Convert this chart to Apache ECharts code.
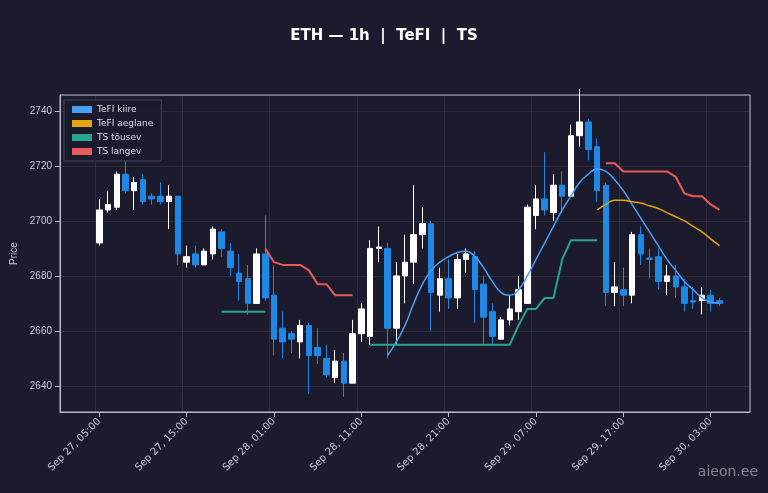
<!DOCTYPE html>
<html>
<head>
<meta charset="utf-8">
<script src="https://cdn.jsdelivr.net/npm/echarts@6/dist/echarts.min.js"></script>
<style>html,body{margin:0;background:#1b1b2d;}#main{width:768px;height:493px;}</style>
</head>
<body>
<div id="main"></div>
<script>
// tunnid: Sep 27 05:00 .. Sep 30 04:00, ees 4 ja taga 3 tühja kohta
var PAD_L = 4, PAD_R = 3;
var hours = [];
for (var p = 0; p < PAD_L; p++) hours.push('l' + p);
for (var h = 0; h < 72; h++) {
    var d = 27 + Math.floor((h + 5) / 24), hh = (h + 5) % 24;
    hours.push('Sep ' + d + ', ' + (hh < 10 ? '0' : '') + hh + ':00');
}
for (var q = 0; q < PAD_R; q++) hours.push('r' + q);
// [open, close, low, high]
var candles = [
    [2692,2704,2691,2708],[2704,2706,2703,2711],[2705,2717,2704,2718],[2717,2711,2710,2722],
    [2711,2714,2704,2716],[2715,2707,2706,2717],[2709,2708,2706,2710],[2709,2707,2706,2714],
    [2707,2709,2697,2713],[2709,2688,2684,2709],[2685,2687,2683,2691],[2688,2684,2683,2691],
    [2684,2689,2684,2690],[2688,2697,2686,2698],[2696,2690,2687,2697],[2689,2683,2680,2692],
    [2681,2678,2671,2688],[2679,2670,2666,2684],[2670,2688,2671,2690],[2688,2672,2671,2702],
    [2673,2657,2651,2684],[2661,2656,2650,2667],[2659,2657,2652,2660],[2656,2662,2650,2664],
    [2662,2651,2637,2663],[2654,2651,2648,2661],[2650,2644,2643,2655],[2643,2649,2641,2653],
    [2649,2641,2636,2652],[2641,2659,2641,2664],[2659,2668,2656,2670],[2658,2690,2655,2693],
    [2690,2690.5,2685,2698],[2690,2661,2650,2692],[2661,2680,2655,2685],[2680,2685,2670,2695],
    [2685,2695,2677,2713],[2695,2699,2690,2705],[2699,2674,2660,2700],[2673,2679,2667,2683],
    [2679,2672,2668,2686],[2672,2686,2668,2688],[2686,2688,2681,2690],[2687,2675,2663,2689],
    [2677,2665,2655,2680],[2667,2658,2655,2670],[2657,2664,2657,2665],[2664,2668,2662,2673],
    [2667,2675,2664,2680],[2670,2705,2670,2706],[2702,2708,2697,2713],[2708,2704,2702,2725],
    [2703,2713,2700,2717],[2713,2709,2703,2718],[2709,2731,2709,2735],[2731,2736,2727,2748],
    [2736,2726,2722,2737],[2727,2711,2707,2730],[2713,2674,2669,2714],[2674,2676,2669,2685],
    [2675,2673,2669,2683],[2673,2695,2670,2696],[2695,2688,2684,2698],[2686.5,2686,2679,2690],
    [2687,2678,2675,2690],[2678,2680,2673,2684],[2680,2676,2672,2684],[2676,2670,2667,2679],
    [2671,2670.5,2668,2676],[2671,2673,2666,2676],[2673,2670,2667,2675],[2671,2670,2669,2672]
];
var n = null;
var tefiKiire = [n,n,n,n,n,n,n,n,n,n,n,n,n,n,n,n,n,n,n,n,n,n,n,n,n,n,n,n,n,n,n,n,n,
    2651,2656,2662,2670,2677,2682,2685,2687,2688.5,2689,2687,2683,2678,2674,2673,2675,2680,
    2686,2692,2698,2704,2709,2714,2717,2719,2718,2715,2711,2706,2701,2696,2691,2686,2682,
    2678,2675,2672,2670.5,2670];
var tefiAeglane = [n,n,n,n,n,n,n,n,n,n,n,n,n,n,n,n,n,n,n,n,n,n,n,n,n,n,n,n,n,n,n,n,n,n,n,n,n,n,n,n,
    n,n,n,n,n,n,n,n,n,n,n,n,n,n,n,n,n,
    2704,2706,2707.5,2707.5,2707,2706.5,2705.5,2704.5,2703,2701.5,2700,2698,2696,2693.5,2691];
var tsTousev = [n,n,n,n,n,n,n,n,n,n,n,n,n,n,2667,2667,2667,2667,2667,2667,n,n,n,n,n,n,n,n,n,n,n,
    2655,2655,2655,2655,2655,2655,2655,2655,2655,2655,2655,2655,2655,2655,2655,2655,2655,
    2662,2668,2668,2672,2672,2686,2693,2693,2693,2693];
var tsLangev = [n,n,n,n,n,n,n,n,n,n,n,n,n,n,n,n,n,n,n,
    2690,2685,2684,2684,2684,2682,2677,2677,2673,2673,2673,
    n,n,n,n,n,n,n,n,n,n,n,n,n,n,n,n,n,n,n,n,n,n,n,n,n,n,n,n,
    2721,2721,2718,2718,2718,2718,2718,2718,2716,2710,2709,2709,2706,2704];

function pad(arr) {
    var out = [];
    for (var i = 0; i < PAD_L; i++) out.push('-');
    out = out.concat(arr);
    while (out.length < hours.length) out.push('-');
    return out;
}
function isTick(i) { return i >= PAD_L && (i - PAD_L) % 10 === 0 && i < PAD_L + 72; }

var chart = echarts.init(document.getElementById('main'));
var txt = '#c8c8d4', grid = 'rgba(255,255,255,0.07)';
chart.setOption({
    backgroundColor: '#1b1b2d',
    title: { text: 'ETH — 1h  |  TeFI  |  TS', left: 'center', top: 24,
        textStyle: { color: '#ffffff', fontSize: 15, fontWeight: 'bold', fontFamily: 'DejaVu Sans' } },
    legend: {
        left: 64, top: 100, orient: 'vertical', itemWidth: 20, itemHeight: 7, itemGap: 5,
        padding: [5, 8], backgroundColor: 'rgba(27,27,45,0.9)', borderColor: '#44445a', borderWidth: 1,
        textStyle: { color: '#dddde6', fontSize: 9, fontFamily: 'DejaVu Sans' },
        data: [
            { name: 'TeFI kiire', icon: 'rect', itemStyle: { color: '#4a9ff5' } },
            { name: 'TeFI aeglane', icon: 'rect', itemStyle: { color: '#e5a50a' } },
            { name: 'TS tõusev', icon: 'rect', itemStyle: { color: '#2aa58a' } },
            { name: 'TS langev', icon: 'rect', itemStyle: { color: '#e85a5a' } }
        ]
    },
    grid: { left: 60, right: 18, top: 95, bottom: 81 },
    xAxis: {
        type: 'category', data: hours, boundaryGap: true,
        axisLine: { lineStyle: { color: '#b8b8c8' } },
        axisTick: { show: true, interval: isTick, alignWithLabel: true, lineStyle: { color: '#b8b8c8' } },
        axisLabel: { color: txt, fontSize: 10, rotate: 45, interval: isTick, fontFamily: 'DejaVu Sans' },
        splitLine: { show: true, interval: isTick, lineStyle: { color: grid } }
    },
    yAxis: {
        type: 'value', min: 2630.5, max: 2745.8, name: 'Price', nameLocation: 'middle', nameGap: 40,
        nameTextStyle: { color: txt, fontSize: 10 },
        axisLine: { show: true, lineStyle: { color: '#b8b8c8' } },
        axisTick: { show: true },
        axisLabel: { color: txt, fontSize: 10, showMinLabel: false, showMaxLabel: false,
            formatter: function (v) { return v % 20 === 0 ? v : ''; } },
        splitLine: { lineStyle: { color: grid } }
    },
    series: [
        { type: 'candlestick', data: pad(candles), barWidth: 6,
          itemStyle: { color: '#ffffff', color0: '#1e88e5', borderColor: '#ffffff', borderColor0: '#1e88e5' } },
        { name: 'TeFI kiire', type: 'line', data: pad(tefiKiire), smooth: true, showSymbol: false, lineStyle: { color: '#4a9ff5', width: 1.5 }, itemStyle: { color: '#4a9ff5' } },
        { name: 'TeFI aeglane', type: 'line', data: pad(tefiAeglane), smooth: true, showSymbol: false, lineStyle: { color: '#e5a50a', width: 1.5 }, itemStyle: { color: '#e5a50a' } },
        { name: 'TS tõusev', type: 'line', data: pad(tsTousev), showSymbol: false, lineStyle: { color: '#2aa58a', width: 2 }, itemStyle: { color: '#2aa58a' } },
        { name: 'TS langev', type: 'line', data: pad(tsLangev), showSymbol: false, lineStyle: { color: '#e85a5a', width: 2 }, itemStyle: { color: '#e85a5a' } }
    ],
    graphic: [{ type: 'text', right: 10, bottom: 14, style: { text: 'aieon.ee', fill: 'rgba(255,255,255,0.45)', fontSize: 14, fontFamily: 'DejaVu Sans' } },
              { type: 'rect', shape: { x: 60, y: 95, width: 690, height: 317 }, style: { fill: 'none', stroke: '#b8b8c8', lineWidth: 1 }, silent: true }]
});
</script>
</body>
</html>
